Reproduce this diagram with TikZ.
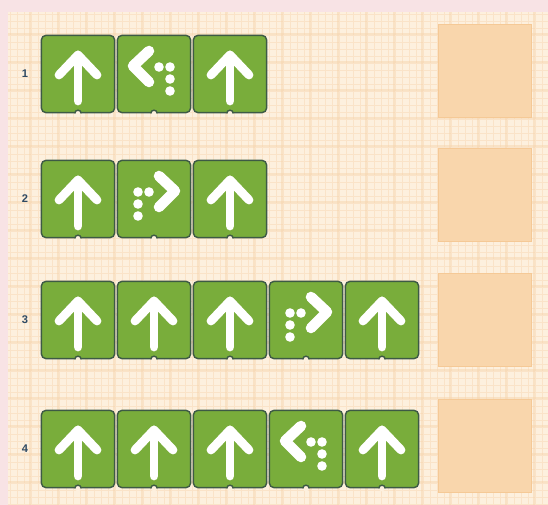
\documentclass[tikz,border=0pt]{standalone}
\usepackage{fontspec}
\setsansfont{Liberation Sans}
\usepackage{tikz}
\usetikzlibrary{calc}
\usepackage{xcolor}

\definecolor{pinkbg}{HTML}{F8E3E5}
\definecolor{gridbg}{HTML}{FDF0DE}
\definecolor{gridline}{HTML}{FAE3C8}
\definecolor{gridmajor}{HTML}{F7D5AE}
\definecolor{blockgreen}{HTML}{79AD3B}
\definecolor{blockedge}{HTML}{3D5A45}
\definecolor{boxfill}{HTML}{F9D6AC}
\definecolor{boxedge}{HTML}{F5C996}
\definecolor{numcol}{HTML}{2E4A64}

\tikzset{
    cmdblock/.style={draw=blockedge, fill=blockgreen, line width=1.2pt, rounded corners=4pt,
        minimum width=2.2cm, minimum height=2.32cm, inner sep=0pt},
    answerbox/.style={draw=boxedge, fill=boxfill, line width=1pt,
        minimum width=2.79cm, minimum height=2.79cm, inner sep=0pt},
    rowlabel/.style={font=\sffamily\bfseries\fontsize{9.5}{10}\selectfont, text=numcol},
    icon/.style={draw=white, line width=7.5pt, line cap=round, line join=round},
    % up arrow
    pics/cmdU/.style={code={
        \draw[icon] (0,27) -- (0,-19);
        \draw[icon] (-19,1) -- (0,-19) -- (19,1);
    }},
    % turn left
    pics/cmdL/.style={code={
        \draw[icon, line width=9pt] (-5,-23) -- (-21,-8) -- (-5,8);
        \foreach \dx/\dy in {5/-7,16/-7,16/5,16/17}
            \fill[white] (\dx,\dy) circle (4.8);
    }},
    % turn right
    pics/cmdR/.style={code={
        \draw[icon, line width=9pt] (5,-23) -- (21,-8) -- (5,8);
        \foreach \dx/\dy in {-5/-7,-16/-7,-16/5,-16/17}
            \fill[white] (\dx,\dy) circle (4.8);
    }}
}

\begin{document}
\begin{tikzpicture}[x=0.03cm, y=-0.03cm]
    % Background
    \useasboundingbox (0,0) rectangle (548,505);
    \fill[pinkbg] (0,0) rectangle (548,505);

    % Grid paper
    \fill[gridbg] (8,12) rectangle (548,505);
    \foreach \gx in {10,17,...,548}
        \draw[gridline, line width=0.4pt] (\gx,12) -- (\gx,505);
    \foreach \gy in {14,21,...,505}
        \draw[gridline, line width=0.4pt] (8,\gy) -- (548,\gy);
    \foreach \gx in {30,58,...,548}
        \draw[gridmajor, line width=1.2pt, opacity=0.5] (\gx,12) -- (\gx,505);
    \foreach \gy in {34,62,...,505}
        \draw[gridmajor, line width=1.2pt, opacity=0.5] (8,\gy) -- (548,\gy);

    % Rows of command blocks
    \foreach \r/\yc/\ya/\cmds in {1/74/71/{U,L,U}, 2/199/195/{U,R,U},
                                 3/320/320/{U,U,U,R,U}, 4/449/446/{U,U,U,L,U}} {
        \node[rowlabel] (n\r) at (25,\yc) {\r};
        \node[answerbox] (a\r) at (485,\ya) {};
        \foreach \k [count=\c] in \cmds {
            \node[cmdblock] (b\r\c) at ({78+76*(\c-1)},\yc) {};
            \fill[gridbg] (b\r\c.south) circle (3);
            \draw[blockedge, line width=1.2pt] ($(b\r\c.south)+(-3.2,0)$) arc (180:360:3.2);
            \pic at (b\r\c) {cmd\k};
        }
    }
\end{tikzpicture}
\end{document}
